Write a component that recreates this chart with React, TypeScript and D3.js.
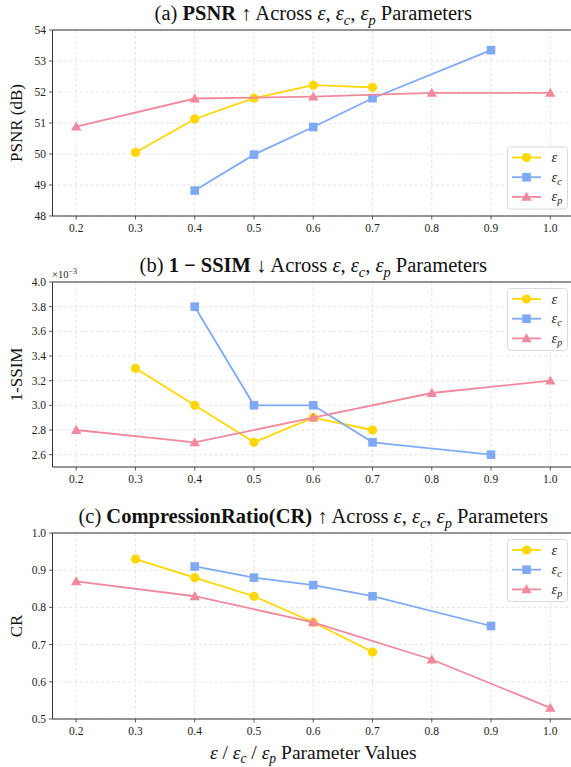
import * as d3 from "d3";
import React from "react";

const W = 571;
const H = 767;

// x positions shared by all three panels
const xTicks = [0.2, 0.3, 0.4, 0.5, 0.6, 0.7, 0.8, 0.9, 1.0];

const epsX = [0.3, 0.4, 0.5, 0.6, 0.7];
const epsCX = [0.4, 0.5, 0.6, 0.7, 0.9];
const epsPX = [0.2, 0.4, 0.6, 0.8, 1.0];

// (a) PSNR
const psnrEps = [50.05, 51.13, 51.8, 52.22, 52.15];
const psnrEpsC = [48.82, 49.98, 50.87, 51.8, 53.35];
const psnrEpsP = [50.88, 51.79, 51.85, 51.97, 51.97];

// (b) 1-SSIM
const ssimEps = [0.0033, 0.003, 0.0027, 0.0029, 0.0028];
const ssimEpsC = [0.0038, 0.003, 0.003, 0.0027, 0.0026];
const ssimEpsP = [0.0028, 0.0027, 0.0029, 0.0031, 0.0032];

// (c) CR
const crEps = [0.93, 0.88, 0.83, 0.76, 0.68];
const crEpsC = [0.91, 0.88, 0.86, 0.83, 0.75];
const crEpsP = [0.87, 0.83, 0.76, 0.66, 0.53];

const psnrTicks = [48, 49, 50, 51, 52, 53, 54];
const ssimTicks = [0.0026, 0.0028, 0.003, 0.0032, 0.0034, 0.0036, 0.0038, 0.004];
const crTicks = [0.5, 0.6, 0.7, 0.8, 0.9, 1.0];

const YELLOW = "#FFD700";
const BLUE = "#7FAAF2";
const PINK = "#F0899E";

const FONT = "'Liberation Serif', 'DejaVu Serif', serif";

const left = 52.5;
const right = 574;
const x = d3.scaleLinear().domain([0.16, 1.04]).range([left, right]);

type Series = { xs: number[]; ys: number[]; color: string; marker: string };

function Marker({ kind, cx, cy, color }: { kind: string; cx: number; cy: number; color: string }) {
  if (kind === "circle") return <circle cx={cx} cy={cy} r={4.6} fill={color} />;
  if (kind === "square") return <rect x={cx - 4.3} y={cy - 4.3} width={8.6} height={8.6} fill={color} />;
  const s = 5.2;
  return <path d={`M${cx},${cy - s}L${cx + s},${cy + s * 0.75}L${cx - s},${cy + s * 0.75}Z`} fill={color} />;
}

// italic epsilon with optional subscript (baseline-shift keeps following text on the baseline)
function Eps({ sub, size }: { sub?: string; size: number }) {
  return (
    <>
      <tspan fontStyle="italic">ε</tspan>
      {sub ? (
        <tspan fontStyle="italic" fontSize={size * 0.7} baselineShift={-size * 0.22}>
          {sub}
        </tspan>
      ) : null}
    </>
  );
}

function Panel({
  top,
  bottom,
  domain,
  ticks,
  fmt,
  series,
  title,
  ylabel,
  legendPos,
  offsetText,
}: {
  top: number;
  bottom: number;
  domain: [number, number];
  ticks: number[];
  fmt: (v: number) => string;
  series: Series[];
  title: React.ReactNode;
  ylabel: string;
  legendPos: "upper" | "lower";
  offsetText?: boolean;
}) {
  const y = d3.scaleLinear().domain(domain).range([bottom, top]);
  const line = d3
    .line<[number, number]>()
    .x((d) => x(d[0]))
    .y((d) => y(d[1]));

  const lbW = 60;
  const lbH = 62;
  const lbX = right - 6.5 - lbW;
  const lbY = legendPos === "upper" ? top + 6.5 : bottom - 7 - lbH;
  const legendLabels = [undefined, "c", "p"];

  return (
    <g>
      {/* grid */}
      {xTicks.map((t) => (
        <line key={"gx" + t} x1={x(t)} x2={x(t)} y1={top} y2={bottom} stroke="#dedede" strokeWidth={0.8} strokeDasharray="3,2.4" />
      ))}
      {ticks.map((t) => (
        <line key={"gy" + t} x1={left} x2={right} y1={y(t)} y2={y(t)} stroke="#dedede" strokeWidth={0.8} strokeDasharray="3,2.4" />
      ))}
      {/* spines */}
      <line x1={left} x2={left} y1={top} y2={bottom} stroke="#333" strokeWidth={1} />
      <line x1={left} x2={right} y1={bottom} y2={bottom} stroke="#333" strokeWidth={1} />
      <line x1={left} x2={right} y1={top} y2={top} stroke="#333" strokeWidth={1} />
      {/* x ticks */}
      {xTicks.map((t) => (
        <g key={"xt" + t}>
          <line x1={x(t)} x2={x(t)} y1={bottom} y2={bottom + 3.5} stroke="#333" strokeWidth={0.8} />
          <text x={x(t)} y={bottom + 15.5} textAnchor="middle" fontSize={11.5} fontFamily={FONT} fill="#222">
            {t.toFixed(1)}
          </text>
        </g>
      ))}
      {/* y ticks */}
      {ticks.map((t) => (
        <g key={"yt" + t}>
          <line x1={left - 3.5} x2={left} y1={y(t)} y2={y(t)} stroke="#333" strokeWidth={0.8} />
          <text x={left - 6.5} y={y(t) + 4} textAnchor="end" fontSize={11.5} fontFamily={FONT} fill="#222">
            {fmt(t)}
          </text>
        </g>
      ))}
      {offsetText ? (
        <text x={left - 0.5} y={top - 4} fontSize={10.5} fontFamily={FONT} fill="#222">
          ×10<tspan fontSize={8} baselineShift={4}>−3</tspan>
        </text>
      ) : null}
      {/* y label */}
      <text
        transform={`translate(22,${(top + bottom) / 2}) rotate(-90)`}
        textAnchor="middle"
        fontSize={17}
        fontFamily={FONT}
        fill="#111"
      >
        {ylabel}
      </text>
      {/* title */}
      <text x={(left + right) / 2} y={top - 10} textAnchor="middle" fontSize={20.5} fontFamily={FONT} fill="#111">
        {title}
      </text>
      {/* series */}
      {series.map((s, i) => {
        const pts = s.xs.map((v, j) => [v, s.ys[j]] as [number, number]);
        return (
          <g key={"s" + i}>
            <path d={line(pts) || ""} fill="none" stroke={s.color} strokeWidth={1.8} />
            {pts.map((p, j) => (
              <Marker key={j} kind={s.marker} cx={x(p[0])} cy={y(p[1])} color={s.color} />
            ))}
          </g>
        );
      })}
      {/* legend */}
      <rect x={lbX} y={lbY} width={lbW} height={lbH} rx={3} fill="white" fillOpacity={0.85} stroke="#d0d0d0" strokeWidth={0.8} />
      {series.map((s, i) => {
        const ly = lbY + 10.5 + i * 19.7;
        return (
          <g key={"l" + i}>
            <line x1={lbX + 4.5} x2={lbX + 33.5} y1={ly} y2={ly} stroke={s.color} strokeWidth={1.8} />
            <Marker kind={s.marker} cx={lbX + 19} cy={ly} color={s.color} />
            <text x={lbX + 44} y={ly + 4.5} fontSize={14.5} fontFamily={FONT} fill="#222">
              <Eps sub={legendLabels[i]} size={14.5} />
            </text>
          </g>
        );
      })}
    </g>
  );
}

function TitleTail() {
  return (
    <>
      <tspan> Across </tspan>
      <Eps size={20.5} />
      <tspan>, </tspan>
      <Eps sub="c" size={20.5} />
      <tspan>, </tspan>
      <Eps sub="p" size={20.5} />
      <tspan> Parameters</tspan>
    </>
  );
}

export default function App() {
  const mk = (a: number[], b: number[], c: number[]): Series[] => [
    { xs: epsX, ys: a, color: YELLOW, marker: "circle" },
    { xs: epsCX, ys: b, color: BLUE, marker: "square" },
    { xs: epsPX, ys: c, color: PINK, marker: "triangle" },
  ];

  return (
    <svg width={W} height={H} style={{ position: "absolute", left: 0, top: 0, background: "white" }}>
      <Panel
        top={30}
        bottom={216}
        domain={[48, 54]}
        ticks={psnrTicks}
        fmt={(v) => String(v)}
        series={mk(psnrEps, psnrEpsC, psnrEpsP)}
        ylabel="PSNR (dB)"
        legendPos="lower"
        title={
          <>
            <tspan>(a) </tspan>
            <tspan fontWeight="bold">PSNR ↑</tspan>
            <TitleTail />
          </>
        }
      />
      <Panel
        top={282}
        bottom={467}
        domain={[0.0025, 0.004]}
        ticks={ssimTicks}
        fmt={(v) => (v * 1000).toFixed(1)}
        series={mk(ssimEps, ssimEpsC, ssimEpsP)}
        ylabel="1-SSIM"
        legendPos="upper"
        offsetText
        title={
          <>
            <tspan>(b) </tspan>
            <tspan fontWeight="bold">1 − SSIM ↓</tspan>
            <TitleTail />
          </>
        }
      />
      <Panel
        top={533}
        bottom={719}
        domain={[0.5, 1.0]}
        ticks={crTicks}
        fmt={(v) => v.toFixed(1)}
        series={mk(crEps, crEpsC, crEpsP)}
        ylabel="CR"
        legendPos="upper"
        title={
          <>
            <tspan>(c) </tspan>
            <tspan fontWeight="bold">CompressionRatio(CR) ↑</tspan>
            <TitleTail />
          </>
        }
      />
      <text x={(left + right) / 2} y={759} textAnchor="middle" fontSize={19.5} fontFamily={FONT} fill="#111">
        <Eps size={19.5} />
        <tspan> / </tspan>
        <Eps sub="c" size={19.5} />
        <tspan> / </tspan>
        <Eps sub="p" size={19.5} />
        <tspan> Parameter Values</tspan>
      </text>
    </svg>
  );
}
